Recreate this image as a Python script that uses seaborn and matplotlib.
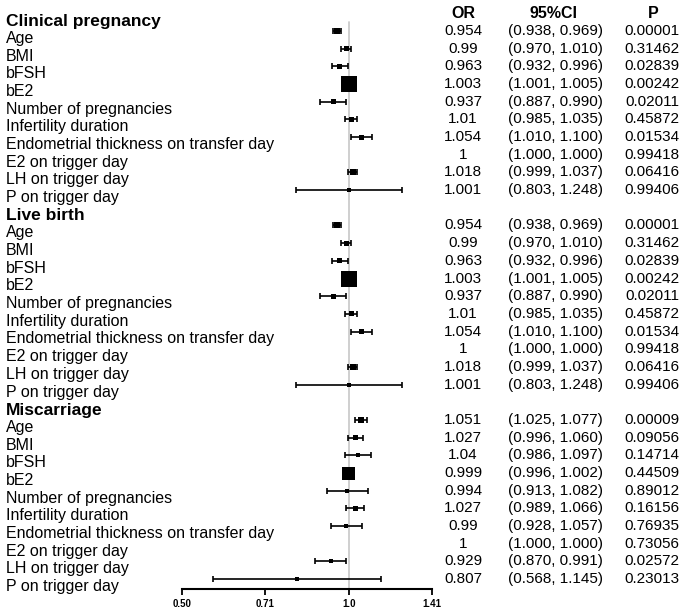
import numpy as np
import pandas as pd
import matplotlib
matplotlib.use("Agg")
import matplotlib.pyplot as plt
import matplotlib.transforms as mtransforms
import seaborn as sns

groups = ["Clinical pregnancy", "Live birth", "Miscarriage"]
variables = ["Age", "BMI", "bFSH", "bE2", "Number of pregnancies", "Infertility duration",
             "Endometrial thickness on transfer day", "E2 on trigger day", "LH on trigger day",
             "P on trigger day"]

or_clin = [0.954, 0.99, 0.963, 1.003, 0.937, 1.01, 1.054, 1, 1.018, 1.001]
lo_clin = [0.938, 0.970, 0.932, 1.001, 0.887, 0.985, 1.010, 1.000, 0.999, 0.803]
hi_clin = [0.969, 1.010, 0.996, 1.005, 0.990, 1.035, 1.100, 1.000, 1.037, 1.248]
p_clin = ["0.00001", "0.31462", "0.02839", "0.00242", "0.02011", "0.45872", "0.01534",
          "0.99418", "0.06416", "0.99406"]

or_live = [0.954, 0.99, 0.963, 1.003, 0.937, 1.01, 1.054, 1, 1.018, 1.001]
lo_live = [0.938, 0.970, 0.932, 1.001, 0.887, 0.985, 1.010, 1.000, 0.999, 0.803]
hi_live = [0.969, 1.010, 0.996, 1.005, 0.990, 1.035, 1.100, 1.000, 1.037, 1.248]
p_live = ["0.00001", "0.31462", "0.02839", "0.00242", "0.02011", "0.45872", "0.01534",
          "0.99418", "0.06416", "0.99406"]

or_misc = [1.051, 1.027, 1.04, 0.999, 0.994, 1.027, 0.99, 1, 0.929, 0.807]
lo_misc = [1.025, 0.996, 0.986, 0.996, 0.913, 0.989, 0.928, 1.000, 0.870, 0.568]
hi_misc = [1.077, 1.060, 1.097, 1.002, 1.082, 1.066, 1.057, 1.000, 0.991, 1.145]
p_misc = ["0.00009", "0.09056", "0.14714", "0.44509", "0.89012", "0.16156", "0.76935",
          "0.73056", "0.02572", "0.23013"]

# box side (px), E2 boxes are not visible
box_clin = [6, 5, 5, 16, 5, 5, 5, 0, 6, 4]
box_live = [6, 5, 5, 16, 5, 5, 5, 0, 6, 4]
box_misc = [6, 5, 4, 13, 4, 5, 4, 0, 4, 4]

ticks = [0.5, 0.7071, 1.0, 1.4142]
tick_labels = ["0.50", "0.71", "1.0", "1.41"]

frames = []
for g, (o, l, h, p, b) in enumerate([(or_clin, lo_clin, hi_clin, p_clin, box_clin),
                                      (or_live, lo_live, hi_live, p_live, box_live),
                                      (or_misc, lo_misc, hi_misc, p_misc, box_misc)]):
    frames.append(pd.DataFrame({"group": groups[g], "var": variables, "OR": o, "lo": l,
                                "hi": h, "P": p, "box": b,
                                "row": 11 * g + np.arange(1, 11)}))
df = pd.concat(frames, ignore_index=True)

sns.set_theme(style="white")
plt.rcParams["font.family"] = ["Liberation Sans", "DejaVu Sans"]
plt.rcParams["text.color"] = "black"
plt.rcParams["xtick.color"] = "black"

fig = plt.figure(figsize=(6.85, 6.14), dpi=100)
ax = fig.add_axes([182 / 685, 25 / 614, 250 / 685, 589 / 614])

ax.plot([1, 1], [0.5, 32.6], color="#cccccc", lw=1.3, zorder=0)

ci = df[df["hi"] > df["lo"]]
ax.errorbar(ci["OR"], ci["row"], xerr=[ci["OR"] - ci["lo"], ci["hi"] - ci["OR"]],
            fmt="none", ecolor="black", elinewidth=1.2, capsize=2.4, capthick=1.2, zorder=2)

sizes = {v: (v * 0.72) ** 2 for v in df["box"].unique()}
sns.scatterplot(data=df, x="OR", y="row", size="box", sizes=sizes, marker="s",
                color="black", linewidth=0, legend=False, ax=ax, zorder=3)

ax.set_xscale("log", base=2)
ax.set_xlim(0.5, 1.4142)
ax.set_ylim(32.56, -0.752)
ax.set_xticks(ticks)
ax.set_xticklabels(tick_labels, fontsize=7, fontweight="bold")
ax.xaxis.set_minor_locator(matplotlib.ticker.NullLocator())
ax.set_yticks([])
ax.set_xlabel("")
ax.set_ylabel("")
for s in ["top", "left", "right"]:
    ax.spines[s].set_visible(False)
ax.spines["bottom"].set_color("black")
ax.spines["bottom"].set_linewidth(1.5)
ax.tick_params(axis="x", direction="out", length=4, width=1.3, color="black", pad=3,
               bottom=True)
ax.patch.set_alpha(0)

tr = mtransforms.blended_transform_factory(fig.transFigure, ax.transData)
for g, name in enumerate(groups):
    ax.text(6 / 685, 11 * g + 0.45, name, transform=tr, ha="left", va="center",
            fontsize=12.5, fontweight="bold")

for _, r in df.iterrows():
    ax.text(6 / 685, r["row"] + 0.42, r["var"], transform=tr, ha="left", va="center",
            fontsize=11.5)
    ax.text(463 / 685, r["row"], f"{r['OR']:g}", transform=tr, ha="center", va="center",
            fontsize=11)
    ax.text(555 / 685, r["row"], f"({r['lo']:.3f}, {r['hi']:.3f})", transform=tr,
            ha="center", va="center", fontsize=11)
    ax.text(652 / 685, r["row"], r["P"], transform=tr, ha="center", va="center",
            fontsize=11)

for x, h in [(463, "OR"), (554, "95%CI"), (653, "P")]:
    ax.text(x / 685, 0, h, transform=tr, ha="center", va="center", fontsize=11.5,
            fontweight="bold")

fig.savefig("out.png", dpi=100, facecolor="white")
